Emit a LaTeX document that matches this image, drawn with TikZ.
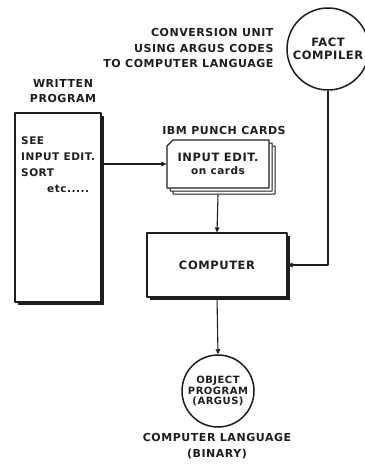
\documentclass[tikz,border=0pt]{standalone}
\usepackage{fontspec}
\setmainfont{DejaVu Sans}[LetterSpace=5]
\usetikzlibrary{arrows.meta,shadows,shapes.misc}
\definecolor{fcink}{RGB}{30,30,30}
\tikzset{
  fcbox/.style={
    draw=fcink, line width=1.1pt, fill=white, text=fcink,
    font=\bfseries\fontsize{11.5}{15}\selectfont, align=center
  },
  shade/.style={drop shadow={fill=fcink, opacity=1, shadow xshift=2.6pt, shadow yshift=-2.6pt}},
  unit/.style={fcbox, circle, line width=1.5pt, inner sep=0pt},
  cards/.style={
    fcbox, chamfered rectangle, chamfered rectangle corners=north west,
    chamfered rectangle xsep=3pt, chamfered rectangle ysep=3pt,
    double copy shadow={shadow xshift=3pt, shadow yshift=-3pt, draw=fcink, line width=1pt}
  },
  lbl/.style={font=\bfseries\fontsize{11}{15.5}\selectfont, text=fcink},
  arr/.style={-{Triangle[length=5pt,width=4.5pt]}, draw=fcink, line width=1.1pt},
  every picture/.append style={line join=round}
}
\begin{document}
\begin{tikzpicture}[x=1pt,y=-1pt]
  \useasboundingbox (0,0) rectangle (364,476);
  % boxes
  \node[fcbox, shade, minimum width=86pt, minimum height=189pt] (wp) at (58,207.5) {};
  \node[lbl, anchor=north west, align=left, inner sep=0pt, font=\bfseries\fontsize{10.5}{16}\selectfont]
    (wptxt) at (21,137) {SEE\\INPUT EDIT.\\SORT\\\hspace*{26pt}etc.....};
  \node[cards, minimum width=102pt, minimum height=48pt] (cd) at (218,164)
    {INPUT EDIT.\\[-2pt]\fontsize{10.5}{12}\selectfont on cards};
  \node[fcbox, shade, minimum width=140pt, minimum height=64pt] (cp) at (217,265) {COMPUTER};
  \node[unit, minimum size=82pt] (fc) at (328,49) {FACT\\[-2pt]COMPILER};
  \node[unit, minimum size=72pt, font=\bfseries\fontsize{10}{12.5}\selectfont] (op) at (218,391)
    {OBJECT\\[-2pt]PROGRAM\\[-2pt](ARGUS)};
  % labels
  \node[lbl, align=right, anchor=east] (conv) at (277,48)
    {CONVERSION UNIT\\USING ARGUS CODES\\TO COMPUTER LANGUAGE};
  \node[lbl, align=center] (wlbl) at (63,91) {WRITTEN\\PROGRAM};
  \node[lbl] (ibm) at (224,130) {IBM PUNCH CARDS};
  \node[lbl, align=center] (cl) at (217,446) {COMPUTER LANGUAGE\\(BINARY)};
  % connectors
  \draw[arr] (wp.east |- cd.west) -- (cd.west);
  \draw[arr] (cd.south) ++(0,-6pt) -- (cp.north);
  \draw[arr] (fc.south) |- (cp.east);
  \draw[arr] (cp.south) -- (op.north);
\end{tikzpicture}
\end{document}
